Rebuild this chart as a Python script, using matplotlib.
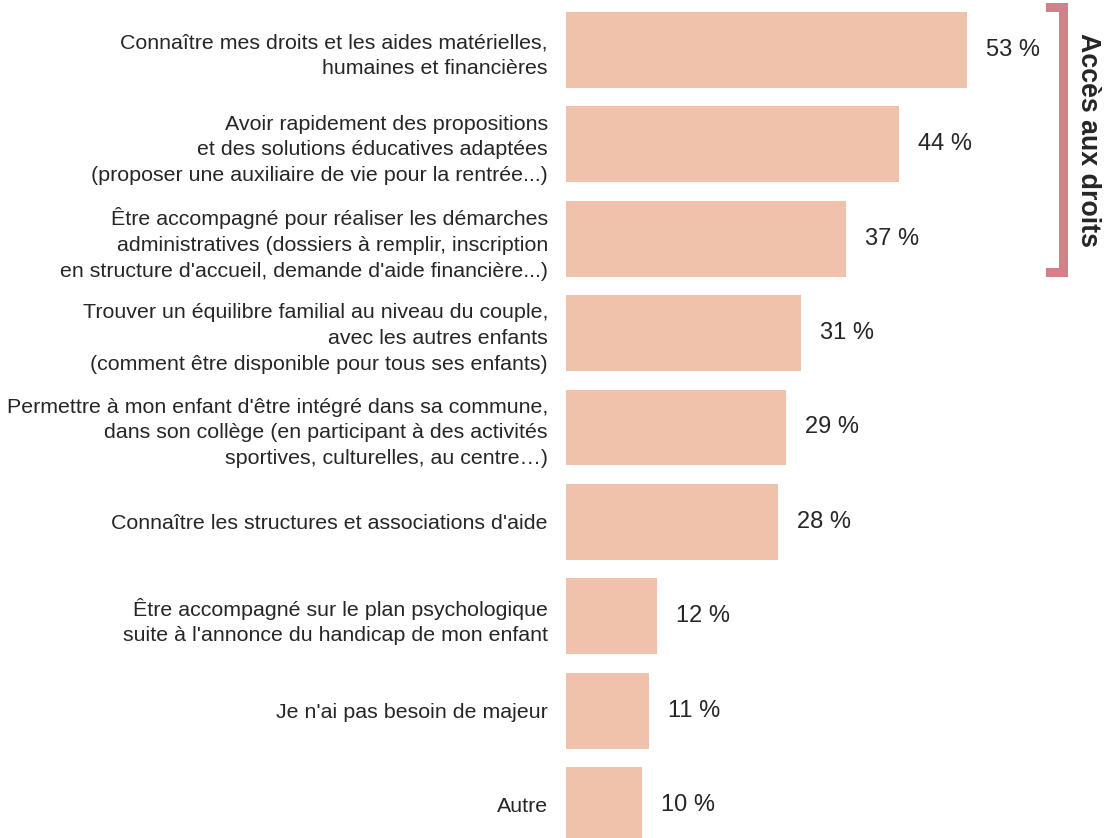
import matplotlib.pyplot as plt

plt.rcParams['font.family'] = ['Liberation Sans', 'DejaVu Sans']

labels = [
    "Connaître mes droits et les aides matérielles,\nhumaines et financières",
    "Avoir rapidement des propositions\net des solutions éducatives adaptées\n(proposer une auxiliaire de vie pour la rentrée...)",
    "Être accompagné pour réaliser les démarches\nadministratives (dossiers à remplir, inscription\nen structure d'accueil, demande d'aide financière...)",
    "Trouver un équilibre familial au niveau du couple,\navec les autres enfants\n(comment être disponible pour tous ses enfants)",
    "Permettre à mon enfant d'être intégré dans sa commune,\ndans son collège (en participant à des activités\nsportives, culturelles, au centre…)",
    "Connaître les structures et associations d'aide",
    "Être accompagné sur le plan psychologique\nsuite à l'annonce du handicap de mon enfant",
    "Je n'ai pas besoin de majeur",
    "Autre",
]
values = [53, 44, 37, 31, 29, 28, 12, 11, 10]
group_label = "Accès aux droits"
group_span = (0, 2)  # first and last bar index covered by the bracket

bar_color = '#F0C2AB'
bracket_color = '#D4808A'
text_color = '#262626'

fig = plt.figure(figsize=(11.05, 8.38), dpi=100)
ax = fig.add_axes([566 / 1105, 0, 1 - 566 / 1105, 1])

ypos = list(range(len(values)))
bar_h = 0.805
ax.barh(ypos, values, height=bar_h, color=bar_color)

ax.set_xlim(0, 71.2)
ax.set_ylim(8.35, -0.53)
ax.set_yticks(ypos)
ax.set_yticklabels(labels, fontsize=15.4, color=text_color, linespacing=1.44,
                   ha='right', multialignment='right')
ax.tick_params(axis='y', length=0, pad=13)
ax.set_xticks([])
for side in ax.spines.values():
    side.set_visible(False)

for y, v in zip(ypos, values):
    ax.annotate(f'{v} %', xy=(v, y), xytext=(19, 0), textcoords='offset pixels',
                va='center', ha='left', fontsize=17, color=text_color)

# bracket around the group
top = group_span[0] - bar_h / 2 - 0.05
bottom = group_span[1] + bar_h / 2 - 0.05
x_line, x_tick = 65.7, 64.0
ax.plot([x_tick, x_line, x_line, x_tick], [top, top, bottom, bottom],
        color=bracket_color, lw=6.5, solid_joinstyle='miter', clip_on=False)
ax.text(69.0, (top + bottom) / 2, group_label, rotation=-90, ha='center', va='center',
        fontsize=19.3, fontweight='bold', color=text_color)

fig.savefig('out.png', dpi=100)
